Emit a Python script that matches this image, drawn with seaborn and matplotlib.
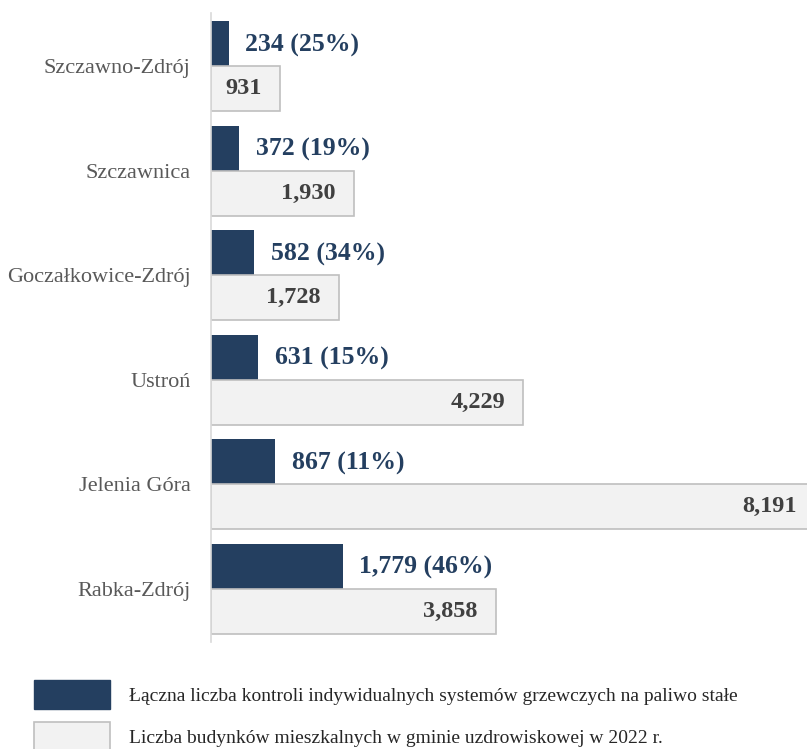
import pandas as pd
import matplotlib.pyplot as plt
import matplotlib.patches as mpatches
import seaborn as sns

gminy = ['Szczawno-Zdrój', 'Szczawnica', 'Goczałkowice-Zdrój', 'Ustroń', 'Jelenia Góra', 'Rabka-Zdrój']
kontrole = [234, 372, 582, 631, 867, 1779]
budynki = [931, 1930, 1728, 4229, 8191, 3858]

lab_kontrole = 'Łączna liczba kontroli indywidualnych systemów grzewczych na paliwo stałe'
lab_budynki = 'Liczba budynków mieszkalnych w gminie uzdrowiskowej w 2022 r.'

navy = '#243F60'
szary = '#F2F2F2'
ramka = '#BFBFBF'

df = pd.DataFrame({
    'gmina': gminy * 2,
    'wartosc': kontrole + budynki,
    'seria': [lab_kontrole] * len(gminy) + [lab_budynki] * len(gminy),
})

sns.set_style('white')
plt.rcParams['font.family'] = ['Liberation Serif', 'DejaVu Serif']

fig = plt.figure(figsize=(8.07, 7.49), dpi=100)
ax = fig.add_axes([0.262, 0.1429, 0.738, 0.8398])

sns.barplot(data=df, y='gmina', x='wartosc', hue='seria', orient='h',
            palette=[navy, szary], width=0.86, dodge=True, ax=ax,
            saturation=1, legend=False)

for bar in ax.containers[0]:
    bar.set_edgecolor(navy)
    bar.set_linewidth(0)
for bar in ax.containers[1]:
    bar.set_edgecolor(ramka)
    bar.set_linewidth(1.2)

# etykiety: kontrole (z udziałem %) i budynki
for bar, k, b in zip(ax.containers[0], kontrole, budynki):
    y = bar.get_y() + bar.get_height() / 2
    ax.annotate(f'{k:,} ({round(100 * k / b)}%)', (bar.get_width(), y),
                xytext=(12, -1), textcoords='offset points', ha='left', va='center',
                color=navy, fontsize=18.5, fontweight='bold')
for bar, b in zip(ax.containers[1], budynki):
    y = bar.get_y() + bar.get_height() / 2
    ax.annotate(f'{b:,}', (bar.get_width(), y),
                xytext=(-13, 0), textcoords='offset points', ha='right', va='center',
                color='#404040', fontsize=17.5, fontweight='bold', annotation_clip=False)

ax.set_xlim(0, 8080)
ax.set_ylim(5.51, -0.51)
ax.set_xlabel('')
ax.set_ylabel('')
ax.set_xticks([])
ax.tick_params(axis='y', length=0, pad=15, labelsize=16, labelcolor='#595959')
for s in ['top', 'right', 'bottom']:
    ax.spines[s].set_visible(False)
ax.spines['left'].set_color('#D9D9D9')
ax.spines['left'].set_linewidth(1.2)

handles = [mpatches.Patch(facecolor=navy, edgecolor=navy, label=lab_kontrole),
           mpatches.Patch(facecolor=szary, edgecolor=ramka, linewidth=1.2, label=lab_budynki)]
fig.legend(handles=handles, loc='upper left', bbox_to_anchor=(34 / 807, 1 - 680 / 749),
           frameon=False, fontsize=14, handlelength=3.9, handleheight=1.9,
           labelspacing=0.7, handletextpad=1.0, borderpad=0, borderaxespad=0,
           labelcolor='#262626')

fig.savefig('out.png', dpi=100)
